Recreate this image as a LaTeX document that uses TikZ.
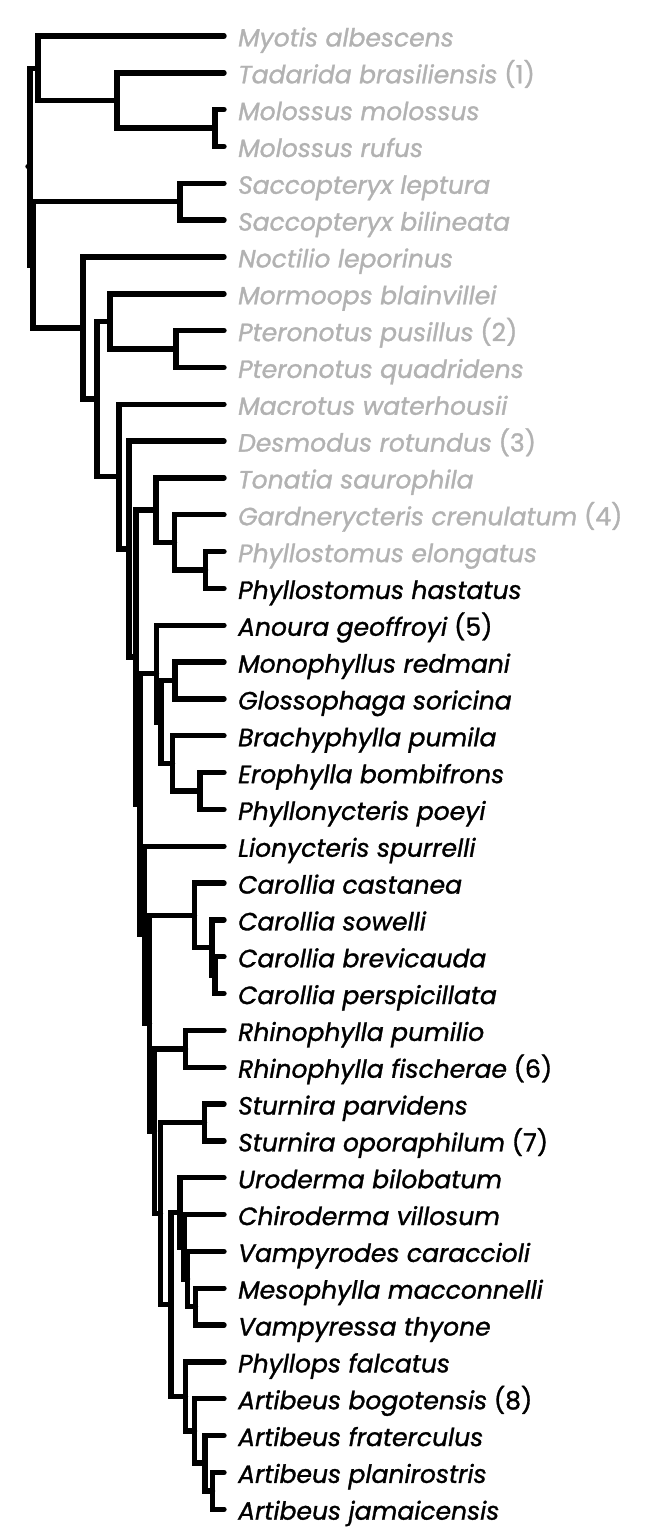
\documentclass[tikz,border=0pt]{standalone}
\usepackage{fontspec}
\setmainfont{Poppins}[FakeBold=1.2]
\usetikzlibrary{calc}
\definecolor{lgray}{RGB}{178,178,178}
\tikzset{
  br/.style={line width=5.4pt, line cap=round, line join=miter, black},
  lab/.style={anchor=base west, inner sep=0pt, font=\fontsize{25}{30}\selectfont}
}
\newcommand\inode[4]{%
  \path let \p1=($(#3)!.5!(#4)$) in coordinate (#1) at (#2pt,\y1);
  \draw[br] (#3) -| (#1) |- (#4);}
\begin{document}
\begin{tikzpicture}[x=1pt,y=-1pt]
\useasboundingbox (0,0) rectangle (646,1530);
\foreach \i/\c/\t in {
 0/lgray/{\textit{Myotis albescens}},
 1/lgray/{\textit{Tadarida brasiliensis} (1)},
 2/lgray/{\textit{Molossus molossus}},
 3/lgray/{\textit{Molossus rufus}},
 4/lgray/{\textit{Saccopteryx leptura}},
 5/lgray/{\textit{Saccopteryx bilineata}},
 6/lgray/{\textit{Noctilio leporinus}},
 7/lgray/{\textit{Mormoops blainvillei}},
 8/lgray/{\textit{Pteronotus pusillus} (2)},
 9/lgray/{\textit{Pteronotus quadridens}},
 10/lgray/{\textit{Macrotus waterhousii}},
 11/lgray/{\textit{Desmodus rotundus} (3)},
 12/lgray/{\textit{Tonatia saurophila}},
 13/lgray/{\textit{Gardnerycteris crenulatum} (4)},
 14/lgray/{\textit{Phyllostomus elongatus}},
 15/black/{\textit{Phyllostomus hastatus}},
 16/black/{\textit{Anoura geoffroyi} (5)},
 17/black/{\textit{Monophyllus redmani}},
 18/black/{\textit{Glossophaga soricina}},
 19/black/{\textit{Brachyphylla pumila}},
 20/black/{\textit{Erophylla bombifrons}},
 21/black/{\textit{Phyllonycteris poeyi}},
 22/black/{\textit{Lionycteris spurrelli}},
 23/black/{\textit{Carollia castanea}},
 24/black/{\textit{Carollia sowelli}},
 25/black/{\textit{Carollia brevicauda}},
 26/black/{\textit{Carollia perspicillata}},
 27/black/{\textit{Rhinophylla pumilio}},
 28/black/{\textit{Rhinophylla fischerae} (6)},
 29/black/{\textit{Sturnira parvidens}},
 30/black/{\textit{Sturnira oporaphilum} (7)},
 31/black/{\textit{Uroderma bilobatum}},
 32/black/{\textit{Chiroderma villosum}},
 33/black/{\textit{Vampyrodes caraccioli}},
 34/black/{\textit{Mesophylla macconnelli}},
 35/black/{\textit{Vampyressa thyone}},
 36/black/{\textit{Phyllops falcatus}},
 37/black/{\textit{Artibeus bogotensis} (8)},
 38/black/{\textit{Artibeus fraterculus}},
 39/black/{\textit{Artibeus planirostris}},
 40/black/{\textit{Artibeus jamaicensis}}}{
  \coordinate (t\i) at (224,{36+36.83*\i});
  \node[lab, text=\c] (n\i) at ([xshift=14pt,yshift=-10.5pt]t\i) {\t};
}
% outgroups
\inode{Mol}{215}{t2}{t3}
\inode{B}{117}{t1}{Mol}
\inode{A}{38}{t0}{B}
\inode{Sac}{180}{t4}{t5}
\inode{Pte}{176}{t8}{t9}
\inode{Mor}{110}{t7}{Pte}
% phyllostomines
\inode{Ph3}{205.5}{t14}{t15}
\inode{Ph2}{174.5}{t13}{Ph3}
\inode{Phy}{156}{t12}{Ph2}
% glossophagines
\inode{MG}{175}{t17}{t18}
\inode{EP}{200}{t20}{t21}
\inode{Bra}{172.5}{t19}{EP}
\inode{Glo2}{161}{MG}{Bra}
\inode{Glo}{156.5}{t16}{Glo2}
% carollia
\inode{Car3}{215}{t25}{t26}
\inode{Car2}{212}{t24}{Car3}
\inode{Car}{194.5}{t23}{Car2}
\inode{Rhi}{185.5}{t27}{t28}
\inode{Stu}{204.5}{t29}{t30}
% stenodermatines
\inode{U4}{195.5}{t34}{t35}
\inode{U3}{187.5}{t33}{U4}
\inode{U2}{184}{t32}{U3}
\inode{U1}{180}{t31}{U2}
\inode{Ar3}{212.5}{t39}{t40}
\inode{Ar2}{205}{t38}{Ar3}
\inode{Ar1}{194.5}{t37}{Ar2}
\inode{Pl}{185.5}{t36}{Ar1}
\inode{Ste}{171}{U1}{Pl}
% backbone
\inode{L4}{160.5}{Stu}{Ste}
\inode{L3}{154.5}{Rhi}{L4}
\inode{L2}{149.5}{Car}{L3}
\inode{L1}{144.5}{t22}{L2}
\inode{G0}{140}{Glo}{L1}
\inode{P1}{136}{Phy}{G0}
\inode{Des}{129}{t11}{P1}
\inode{Mac}{119}{t10}{Des}
\inode{D}{97}{Mor}{Mac}
\inode{C}{83}{t6}{D}
\inode{R2}{33}{Sac}{C}
\inode{R1}{30}{A}{R2}
\coordinate (root) at ([xshift=-2pt]R1);
\draw[br] (root) -- (R1);
\end{tikzpicture}
\end{document}
